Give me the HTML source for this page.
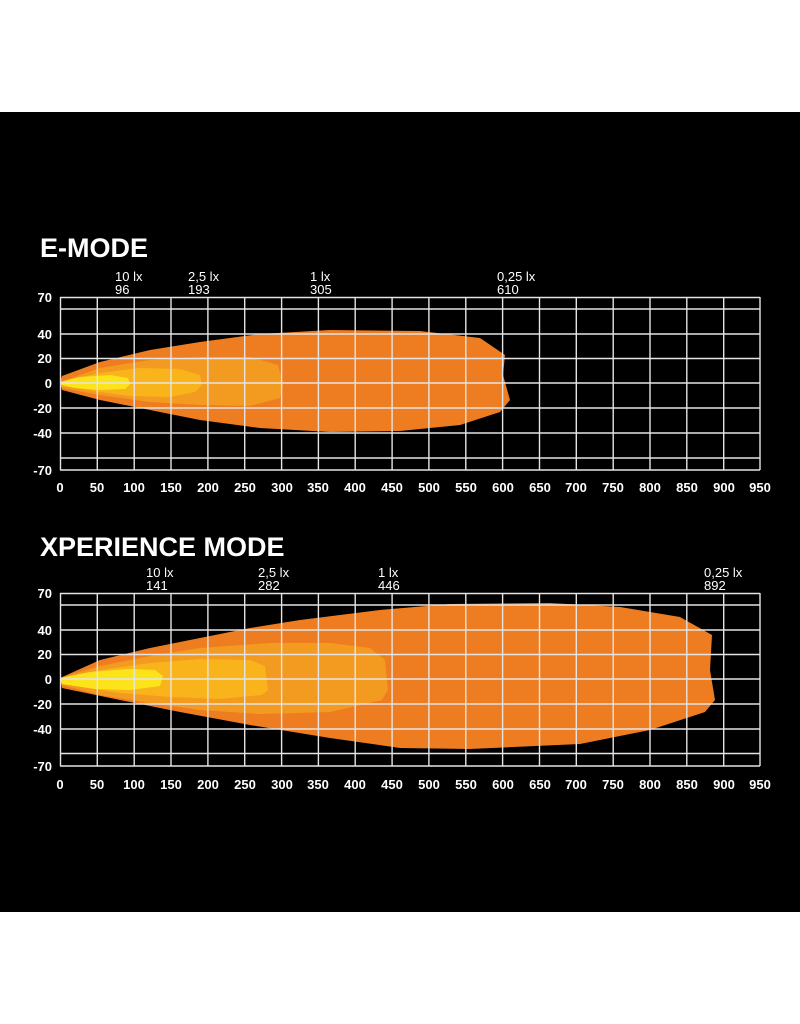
<!DOCTYPE html>
<html><head><meta charset="utf-8"><style>
html,body{margin:0;padding:0;background:#fff;}
svg{display:block;}
text{font-family:"Liberation Sans",sans-serif;fill:#fff;}
</style></head><body>
<svg width="800" height="1024" viewBox="0 0 800 1024" xmlns="http://www.w3.org/2000/svg">
<rect x="0" y="112" width="800" height="800" fill="#000"/>
<!-- E-MODE -->
<text x="40" y="257" font-size="27" font-weight="bold">E-MODE</text>
<g font-size="13">
<text x="115" y="281">10 lx</text><text x="115" y="294">96</text>
<text x="188" y="281">2,5 lx</text><text x="188" y="294">193</text>
<text x="310" y="281">1 lx</text><text x="310" y="294">305</text>
<text x="497" y="281">0,25 lx</text><text x="497" y="294">610</text>
</g>
<path fill="#ee7d22" d="M60,382 L62,376 L100,362 L150,350 L200,342 L260,334 L330,330 L420,331 L480,338 L505,355 L503,375 L510,400 L500,412 L460,425 L400,431 L330,432 L260,428 L200,420 L150,410 L100,400 L62,390 Z"/>
<path fill="#f39a20" d="M60,382 L100,368 L150,360 L200,357 L250,357 L278,365 L283,384 L280,398 L250,406 L200,405 L150,402 L100,395 L62,388 Z"/>
<path fill="#f8b41a" d="M60,382 L100,373 L140,368 L180,369 L200,375 L202,385 L195,392 L170,397 L130,396 L100,392 L62,386 Z"/>
<path fill="#fde41a" d="M60,382 L80,377 L110,375 L128,378 L130,384 L125,389 L100,390 L75,388 L62,385 Z"/>
<g stroke="#e4e4e4" stroke-width="1.4" fill="none">
<path d="M60,297.5H760M60,309H760M60,334H760M60,358.5H760M60,383H760M60,408H760M60,433H760M60,458H760M60,470H760"/>
<path d="M60.5,297V470M97.3,297V470M134.2,297V470M171,297V470M207.9,297V470M244.7,297V470M281.6,297V470M318.4,297V470M355.2,297V470M392.1,297V470M428.9,297V470M465.8,297V470M502.6,297V470M539.5,297V470M576.3,297V470M613.2,297V470M650,297V470M686.8,297V470M723.7,297V470M760,297V470"/>
</g>
<g font-size="13" font-weight="bold">
<text x="52" y="302" text-anchor="end">70</text>
<text x="52" y="339" text-anchor="end">40</text>
<text x="52" y="363" text-anchor="end">20</text>
<text x="52" y="388" text-anchor="end">0</text>
<text x="52" y="413" text-anchor="end">-20</text>
<text x="52" y="438" text-anchor="end">-40</text>
<text x="52" y="475" text-anchor="end">-70</text>
</g>
<g font-size="13" font-weight="bold" text-anchor="middle">
<text x="60" y="492">0</text><text x="97" y="492">50</text><text x="134" y="492">100</text><text x="171" y="492">150</text><text x="208" y="492">200</text><text x="245" y="492">250</text><text x="282" y="492">300</text><text x="318" y="492">350</text><text x="355" y="492">400</text><text x="392" y="492">450</text><text x="429" y="492">500</text><text x="466" y="492">550</text><text x="503" y="492">600</text><text x="540" y="492">650</text><text x="576" y="492">700</text><text x="613" y="492">750</text><text x="650" y="492">800</text><text x="687" y="492">850</text><text x="724" y="492">900</text><text x="760" y="492">950</text>
</g>
<!-- XPERIENCE -->
<text x="40" y="556" font-size="27" font-weight="bold">XPERIENCE MODE</text>
<g font-size="13">
<text x="146" y="577">10 lx</text><text x="146" y="590">141</text>
<text x="258" y="577">2,5 lx</text><text x="258" y="590">282</text>
<text x="378" y="577">1 lx</text><text x="378" y="590">446</text>
<text x="704" y="577">0,25 lx</text><text x="704" y="590">892</text>
</g>
<path fill="#ee7d22" d="M60,678 L100,660 L150,648 L200,638 L250,628 L300,620 L380,610 L450,604 L550,603 L620,607 L680,617 L712,635 L710,670 L715,700 L705,712 L650,730 L580,744 L470,749 L400,748 L330,738 L250,725 L180,712 L120,700 L62,688 Z"/>
<path fill="#f39a20" d="M60,678 L100,666 L150,656 L200,648 L270,643 L330,643 L370,648 L385,660 L388,690 L382,700 L330,712 L260,714 L200,710 L150,703 L100,695 L62,685 Z"/>
<path fill="#f8b41a" d="M60,678 L100,670 L150,663 L200,659 L250,660 L265,666 L268,690 L262,695 L220,699 L170,697 L120,693 L62,684 Z"/>
<path fill="#fde41a" d="M60,678 L90,672 L130,669 L155,670 L163,676 L160,686 L130,690 L95,689 L62,684 Z"/>
<g stroke="#e4e4e4" stroke-width="1.4" fill="none">
<path d="M60,593.5H760M60,605H760M60,630H760M60,654.5H760M60,679H760M60,704H760M60,729H760M60,753.5H760M60,766H760"/>
<path d="M60.5,593V766M97.3,593V766M134.2,593V766M171,593V766M207.9,593V766M244.7,593V766M281.6,593V766M318.4,593V766M355.2,593V766M392.1,593V766M428.9,593V766M465.8,593V766M502.6,593V766M539.5,593V766M576.3,593V766M613.2,593V766M650,593V766M686.8,593V766M723.7,593V766M760,593V766"/>
</g>
<g font-size="13" font-weight="bold">
<text x="52" y="598" text-anchor="end">70</text>
<text x="52" y="635" text-anchor="end">40</text>
<text x="52" y="659" text-anchor="end">20</text>
<text x="52" y="684" text-anchor="end">0</text>
<text x="52" y="709" text-anchor="end">-20</text>
<text x="52" y="734" text-anchor="end">-40</text>
<text x="52" y="771" text-anchor="end">-70</text>
</g>
<g font-size="13" font-weight="bold" text-anchor="middle">
<text x="60" y="789">0</text><text x="97" y="789">50</text><text x="134" y="789">100</text><text x="171" y="789">150</text><text x="208" y="789">200</text><text x="245" y="789">250</text><text x="282" y="789">300</text><text x="318" y="789">350</text><text x="355" y="789">400</text><text x="392" y="789">450</text><text x="429" y="789">500</text><text x="466" y="789">550</text><text x="503" y="789">600</text><text x="540" y="789">650</text><text x="576" y="789">700</text><text x="613" y="789">750</text><text x="650" y="789">800</text><text x="687" y="789">850</text><text x="724" y="789">900</text><text x="760" y="789">950</text>
</g>
</svg>
</body></html>
